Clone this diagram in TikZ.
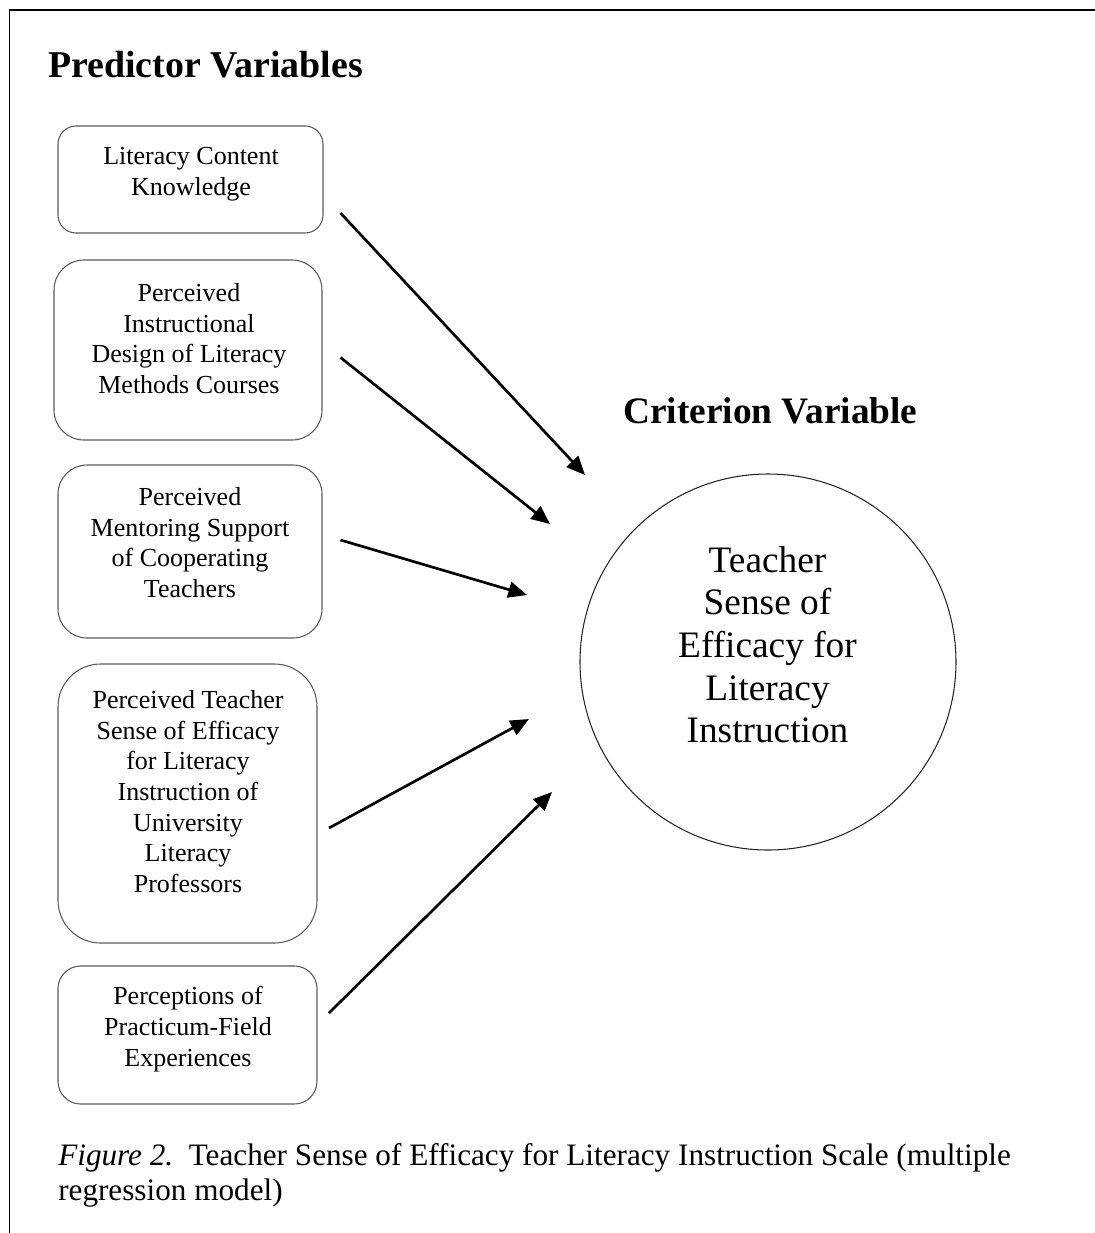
\documentclass[tikz,border=0pt]{standalone}
\usepackage{fontspec}
\setmainfont{Liberation Serif}
\usetikzlibrary{arrows.meta}
\begin{document}
\begin{tikzpicture}[x=0.75pt,y=-0.75pt,
  box/.style={draw=black!65, line width=0.8pt, inner sep=0pt},
  boxtext/.style={inner sep=0pt, align=center, font=\fontsize{19.5}{23}\selectfont},
  circtext/.style={inner sep=0pt, align=center, font=\fontsize{28}{32}\selectfont},
  heading/.style={inner sep=0pt, anchor=base west, font=\fontsize{28.4}{32}\selectfont\bfseries},
  arr/.style={line width=2pt, -{Triangle[length=14pt,width=12pt]}}]
\useasboundingbox (0,0) rectangle (1095,1233);
% frame
\draw[line width=1.5pt] (9.5,10) -- (1095,10);
\draw[line width=1.1pt] (9.5,9) -- (9.5,1233);
% headings
\node[heading] (ph) at (48,77) {Predictor Variables};
\node[heading, font=\fontsize{28}{32}\selectfont\bfseries] (ch) at (623,423) {Criterion Variable};
% boxes
\node[box, rounded corners=13.5pt, minimum width=198.75pt, minimum height=80.25pt] (b1) at (190.5,179.5) {};
\node[box, rounded corners=22.5pt, minimum width=201pt, minimum height=135pt] (b2) at (188,350) {};
\node[box, rounded corners=21.75pt, minimum width=198pt, minimum height=129.75pt] (b3) at (190,551.5) {};
\node[box, rounded corners=32pt, minimum width=194.25pt, minimum height=209.25pt] (b4) at (187.5,803.5) {};
\node[box, rounded corners=17pt, minimum width=194.25pt, minimum height=103.5pt] (b5) at (187.5,1035) {};
% box texts
\node[boxtext] (t1) at (191,174) {\strut Literacy Content\\Knowledge\strut};
\node[boxtext] (t2) at (189,341.5) {\strut Perceived\\Instructional\\Design of Literacy\\Methods Courses\strut};
\node[boxtext] (t3) at (190,545.5) {\strut Perceived\\Mentoring Support\\of Cooperating\\Teachers\strut};
\node[boxtext] (t4) at (188,794.5) {\strut Perceived Teacher\\Sense of Efficacy\\for Literacy\\Instruction of\\University\\Literacy\\Professors\strut};
\node[boxtext] (t5) at (188,1029.5) {\strut Perceptions of\\Practicum-Field\\Experiences\strut};
% circle
\node[draw=black!85, line width=0.8pt, circle, minimum size=282pt, inner sep=0pt] (c) at (768,662) {};
\node[circtext] (ct) at (767.5,649) {\strut Teacher\\Sense of\\Efficacy for\\Literacy\\Instruction\strut};
% arrow end points
\coordinate (s1) at (340.5,213);
\coordinate (e1) at (585,475);
\coordinate (s2) at (340.5,357.5);
\coordinate (e2) at (550,524);
\coordinate (s3) at (340.5,540);
\coordinate (e3) at (527,595);
\coordinate (s4) at (329,828);
\coordinate (e4) at (529,719);
\coordinate (s5) at (329,1013);
\coordinate (e5) at (552,792);
\draw[arr] (s1) -- (e1);
\draw[arr] (s2) -- (e2);
\draw[arr] (s3) -- (e3);
\draw[arr] (s4) -- (e4);
\draw[arr] (s5) -- (e5);
% caption
\node[inner sep=0pt, anchor=west, align=left, font=\fontsize{23.4}{26.25}\selectfont] (cap) at (58,1175.5)
  {\strut\textit{Figure 2.}\ \ Teacher Sense of Efficacy for Literacy Instruction Scale (multiple\\regression model)\strut};
\end{tikzpicture}
\end{document}
